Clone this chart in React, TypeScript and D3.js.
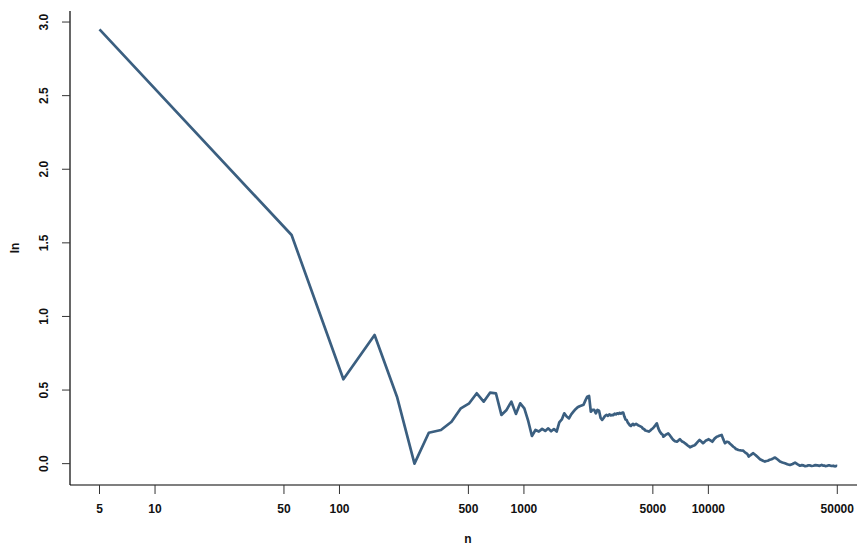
import React from "react";
import * as d3 from "d3";

const nValues: number[] = [
  5, 55, 105, 155, 205, 255, 305, 355, 405, 455, 505, 555, 605, 655, 705, 755, 805, 855, 905, 955,
  1005, 1055, 1105, 1155, 1205, 1255, 1305, 1355, 1405, 1455, 1505, 1555, 1605, 1655, 1705, 1755, 1805, 1855, 1905, 1955,
  2005, 2055, 2105, 2155, 2205, 2255, 2305, 2355, 2405, 2455, 2505, 2555, 2605, 2655, 2705, 2755, 2805, 2855, 2905, 2955,
  3005, 3055, 3105, 3155, 3205, 3255, 3305, 3355, 3405, 3455, 3505, 3555, 3605, 3655, 3705, 3755, 3805, 3855, 3905, 3955,
  4055, 4155, 4255, 4355, 4405, 4505, 4555, 4655, 4755, 4855, 4905, 5005, 5055, 5155, 5255, 5355, 5455, 5555, 5655, 5705,
  5805, 5855, 5955, 6055, 6155, 6205, 6355, 6455, 6605, 6755, 6855, 6905, 7005, 7105, 7205, 7355, 7455, 7605, 7705, 7855,
  7955, 8105, 8205, 8355, 8455, 8605, 8705, 8855, 8955, 9155, 9355, 9505, 9655, 9855, 10005, 10255, 10505, 10655, 10805, 11105,
  11305, 11455, 11655, 11805, 12005, 12305, 12605, 12905, 13105, 13305, 13655, 13905, 14105, 14355, 14555, 15005, 15455, 15855, 16255, 16555,
  16805, 17005, 17505, 18005, 18505, 19055, 19655, 20255, 20605, 21005, 21505, 22005, 22505, 23005, 23755, 24455, 25205, 26005, 26805, 27705,
  28605, 29505, 30505, 31405, 32105, 32805, 33505, 34155, 34855, 35605, 36305, 37105, 38005, 39005, 40105, 41155, 41805, 42505, 43105, 43755,
  44605, 45505, 46505, 47505, 48105, 48755, 49355, 49955,
];

const lnValues: number[] = [
  2.95, 1.553, 0.573, 0.874, 0.455, 0.0, 0.21, 0.229, 0.285, 0.376, 0.41, 0.478, 0.421, 0.482, 0.478, 0.331, 0.365, 0.421, 0.338, 0.41,
  0.376, 0.29, 0.188, 0.229, 0.218, 0.236, 0.222, 0.24, 0.22, 0.235, 0.218, 0.28, 0.3, 0.342, 0.32, 0.308, 0.335, 0.353, 0.37, 0.383,
  0.39, 0.395, 0.4, 0.43, 0.455, 0.46, 0.353, 0.365, 0.365, 0.342, 0.365, 0.36, 0.31, 0.297, 0.31, 0.325, 0.331, 0.325, 0.335, 0.328,
  0.331, 0.33, 0.34, 0.335, 0.342, 0.338, 0.345, 0.34, 0.346, 0.346, 0.32, 0.3, 0.297, 0.28, 0.27, 0.26, 0.256, 0.265, 0.27, 0.262,
  0.27, 0.261, 0.255, 0.248, 0.24, 0.232, 0.225, 0.222, 0.218, 0.226, 0.232, 0.241, 0.247, 0.26, 0.274, 0.24, 0.218, 0.204, 0.196, 0.183,
  0.19, 0.195, 0.201, 0.206, 0.196, 0.19, 0.172, 0.161, 0.152, 0.149, 0.156, 0.16, 0.166, 0.158, 0.15, 0.145, 0.139, 0.131, 0.125, 0.118,
  0.111, 0.116, 0.12, 0.124, 0.127, 0.137, 0.145, 0.155, 0.161, 0.15, 0.139, 0.146, 0.155, 0.16, 0.166, 0.158, 0.149, 0.16, 0.17, 0.183,
  0.186, 0.19, 0.193, 0.195, 0.17, 0.139, 0.149, 0.145, 0.135, 0.128, 0.115, 0.108, 0.1, 0.096, 0.093, 0.09, 0.088, 0.075, 0.066, 0.048,
  0.055, 0.06, 0.071, 0.059, 0.045, 0.03, 0.022, 0.014, 0.018, 0.02, 0.026, 0.03, 0.036, 0.041, 0.028, 0.014, 0.008, 0.003, -0.004, -0.009,
  -0.002, 0.007, -0.005, -0.014, -0.01, -0.012, -0.017, -0.016, -0.011, -0.012, -0.016, -0.014, -0.01, -0.012, -0.015, -0.009, -0.013, -0.013, -0.017, -0.016,
  -0.012, -0.012, -0.016, -0.014, -0.017, -0.018, -0.015, -0.016,
];

const xTicks: number[] = [5, 10, 50, 100, 500, 1000, 5000, 10000, 50000];
const yTicks: number[] = [0, 0.5, 1.0, 1.5, 2.0, 2.5, 3.0];

const W = 857;
const H = 547;
const left = 70;
const right = 866.8;
const top = 11;
const bottom = 485;

export default function App() {
  const data = nValues.map((n, i) => ({ n, v: lnValues[i] }));
  const x = d3
    .scaleLog()
    .domain([Math.pow(10, Math.log10(5) - 0.16), Math.pow(10, Math.log10(50000) + 0.16)])
    .range([left, right]);
  const y = d3.scaleLinear().domain([-0.145, 3.075]).range([bottom, top]);
  const line = d3
    .line<{ n: number; v: number }>()
    .x((d) => x(d.n))
    .y((d) => y(d.v));
  const font = "'Liberation Sans', Arial, Helvetica, sans-serif";

  return (
    <svg
      width={W}
      height={H}
      style={{ position: "absolute", left: 0, top: 0, background: "#fff" }}
      fontFamily={font}
    >
      <path d={line(data) || ""} fill="none" stroke="#3b5f80" strokeWidth={2.7} strokeLinejoin="round" />
      <line x1={left} x2={left} y1={top} y2={bottom} stroke="#000" strokeWidth={1.2} />
      <line x1={left} x2={W} y1={bottom} y2={bottom} stroke="#000" strokeWidth={1.2} />
      {yTicks.map((t) => (
        <g key={"y" + t}>
          <line x1={left - 8} x2={left} y1={y(t)} y2={y(t)} stroke="#333" strokeWidth={1} />
          <text
            transform={`translate(${48},${y(t)}) rotate(-90)`}
            textAnchor="middle"
            fontSize={12}
            fontWeight="bold"
            fill="#111"
          >
            {t.toFixed(1)}
          </text>
        </g>
      ))}
      {xTicks.map((t) => (
        <g key={"x" + t}>
          <line x1={x(t)} x2={x(t)} y1={bottom} y2={bottom + 9} stroke="#333" strokeWidth={1} />
          <text x={x(t)} y={513} textAnchor="middle" fontSize={12} fontWeight="bold" fill="#111">
            {t}
          </text>
        </g>
      ))}
      <text x={468} y={543} textAnchor="middle" fontSize={12} fontWeight="bold" fill="#111">
        n
      </text>
      <text
        transform={`translate(${19},${248}) rotate(-90)`}
        textAnchor="middle"
        fontSize={12}
        fontWeight="bold"
        fill="#111"
      >
        ln
      </text>
    </svg>
  );
}
